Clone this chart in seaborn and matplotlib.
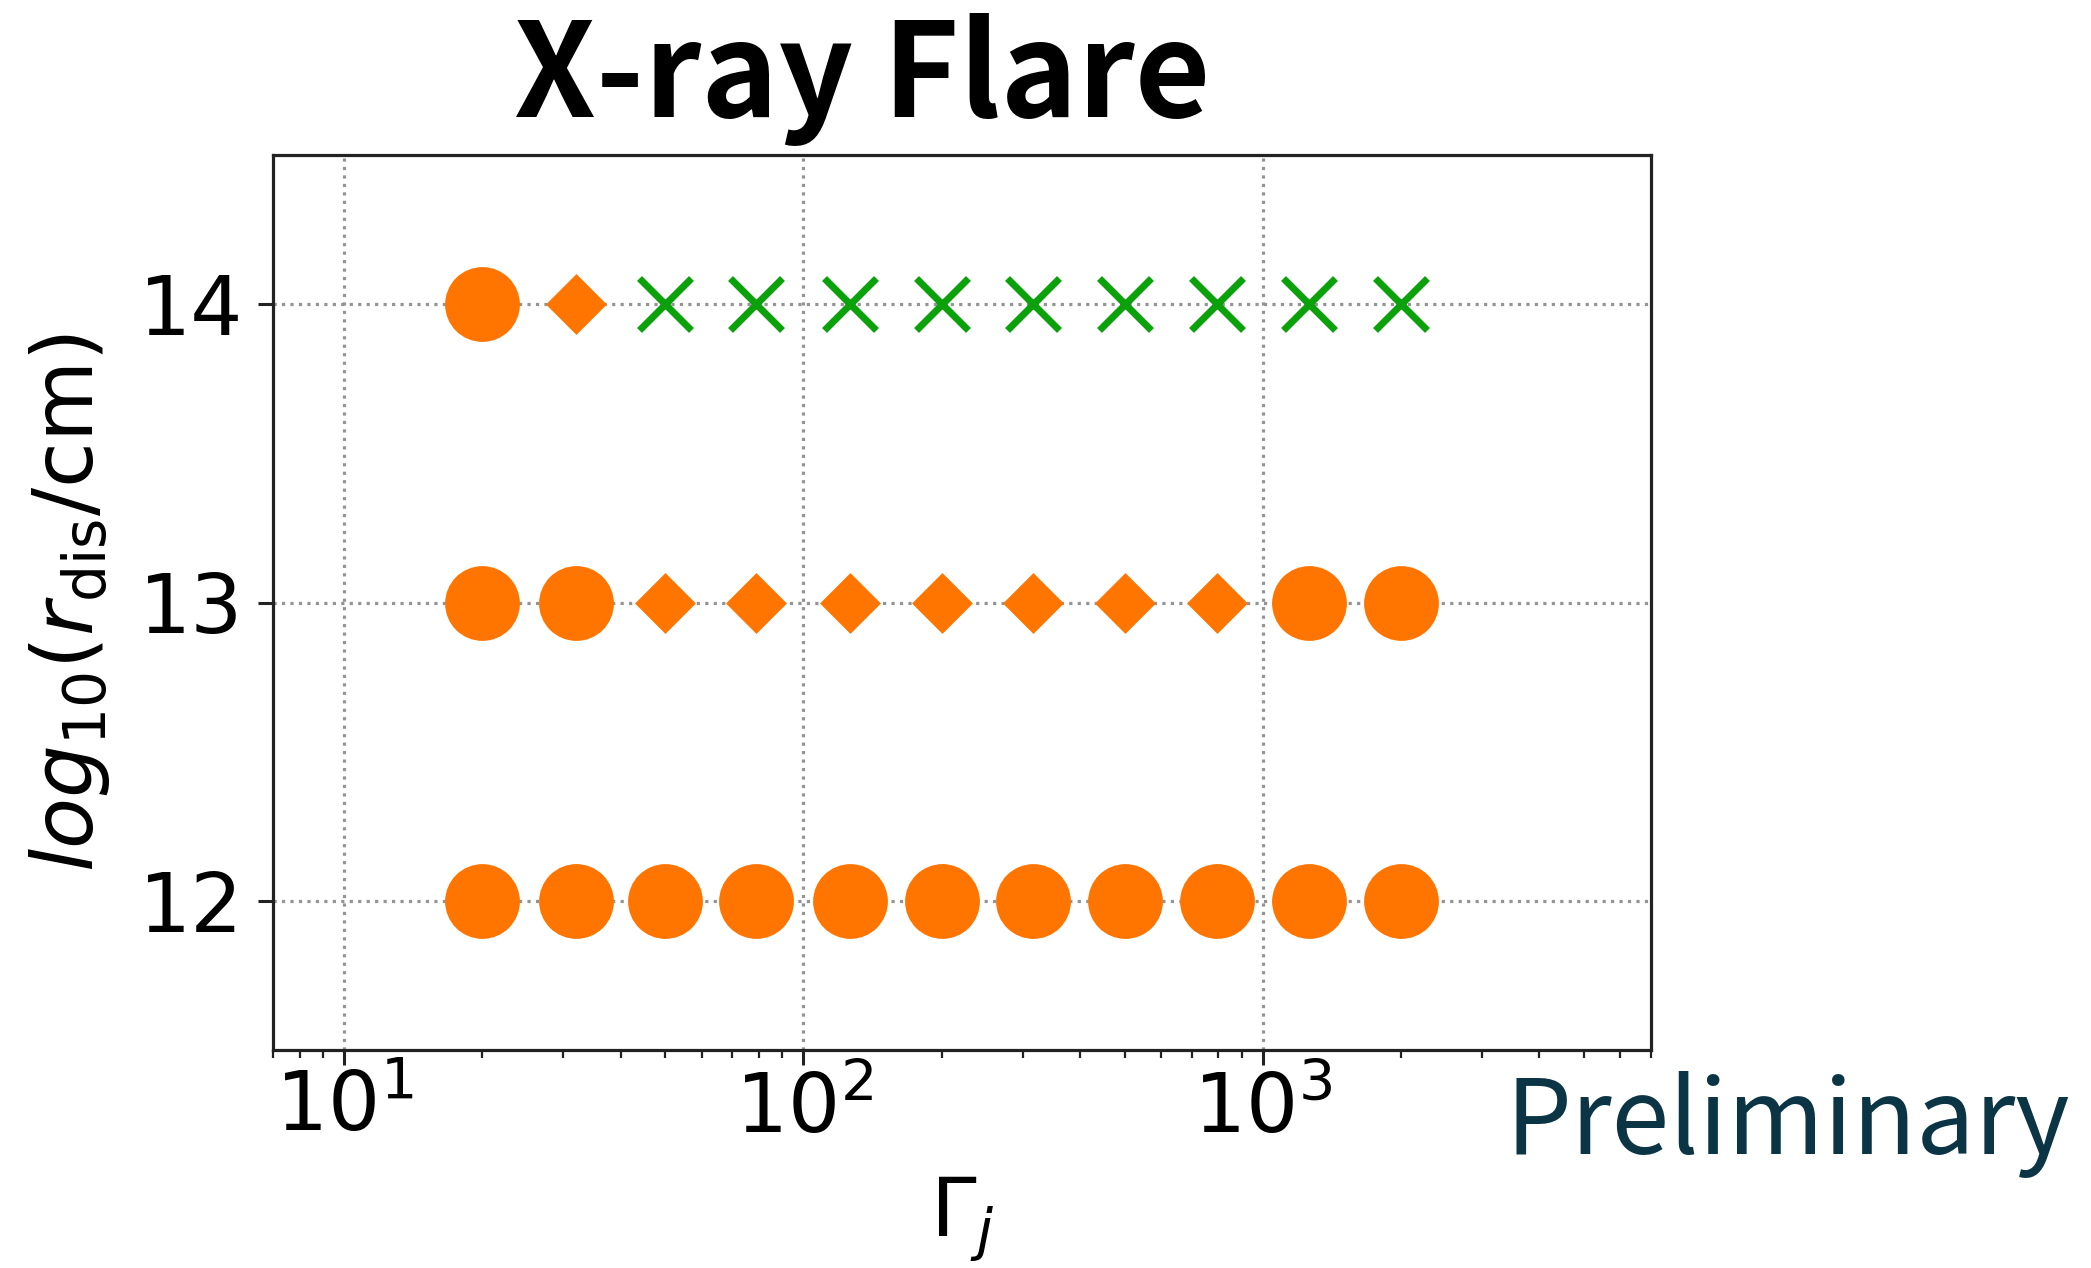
import numpy as np
import pandas as pd
import matplotlib
matplotlib.use("Agg")
import matplotlib.pyplot as plt
import seaborn as sns

# Jet Lorentz factors sampled along each dissipation radius
gamma_j = [20, 32, 50, 79, 126, 200, 316, 501, 794, 1259, 1995]
log_r_dis = [12, 13, 14]

# Outcome class at each (r_dis, Gamma_j) grid point
outcome_r12 = ["bright"] * 11
outcome_r13 = ["bright", "bright", "weak", "weak", "weak", "weak",
               "weak", "weak", "weak", "bright", "bright"]
outcome_r14 = ["bright", "weak", "none", "none", "none", "none",
               "none", "none", "none", "none", "none"]

x_ticks = [10, 100, 1000]
y_ticks = [12, 13, 14]

rows = []
for r, outcomes in zip(log_r_dis, [outcome_r12, outcome_r13, outcome_r14]):
    for g, o in zip(gamma_j, outcomes):
        rows.append({"gamma": g, "logr": r, "outcome": o})
df = pd.DataFrame(rows)

sns.set_theme(style="white")
plt.rcParams["font.family"] = ["DejaVu Sans"]
plt.rcParams["mathtext.fontset"] = "dejavusans"
plt.rcParams["text.color"] = "black"
plt.rcParams["axes.labelcolor"] = "black"
plt.rcParams["xtick.color"] = "black"
plt.rcParams["ytick.color"] = "black"

fig = plt.figure(figsize=(20.91, 12.68), dpi=100)
ax = fig.add_axes([273 / 2091, 1 - 1050 / 1268, (1651 - 273) / 2091, (1050 - 155) / 1268])

orange = "#ff7500"
green = "#0ba10b"

styles = {
    "bright": dict(marker="o", s=2900, color=orange, linewidth=0),
    "weak": dict(marker="D", s=960, color=orange, linewidth=0),
    "none": dict(marker="x", s=1400, color=green, linewidth=5.0),
}
for name, kw in styles.items():
    sub = df[df["outcome"] == name]
    sns.scatterplot(data=sub, x="gamma", y="logr", ax=ax, legend=False,
                    zorder=3, **kw)

ax.set_xscale("log")
ax.set_xlim(7, 7000)
ax.set_ylim(11.5, 14.5)
ax.set_xticks(x_ticks)
ax.set_yticks(y_ticks)

ax.grid(True, which="major", linestyle=":", linewidth=2.3, color="0.58")
ax.grid(False, which="minor")

for sp in ax.spines.values():
    sp.set_linewidth(2.3)
    sp.set_color("#222222")

ax.tick_params(axis="both", which="major", direction="out", length=10.5,
               width=2.2, color="#222222", labelcolor="black", labelsize=59,
               bottom=True, left=True)
ax.tick_params(axis="x", which="major", pad=3.5)
ax.tick_params(axis="y", which="major", pad=11)
ax.tick_params(axis="x", which="minor", direction="out", length=6, width=1.6,
               color="#222222", bottom=True)

ax.set_xlabel(r"$\Gamma_j$", fontsize=59, labelpad=18, color="black")
ax.set_ylabel(r"$log_{10}(r_{\rm dis}/{\rm cm})$", fontsize=60, labelpad=19,
              color="black")

fig.text(862 / 2091, 1 - 117 / 1268, "X-ray Flare", ha="center", va="baseline",
         fontsize=94, fontweight="bold", family=["Noto Sans CJK JP", "DejaVu Sans"],
         color="black")
fig.text(1505 / 2091, 1 - 1154 / 1268, "Preliminary", ha="left", va="baseline",
         fontsize=75, family=["Noto Sans CJK JP", "DejaVu Sans"], color="#0b3545")

fig.savefig("out.png", dpi=100)
